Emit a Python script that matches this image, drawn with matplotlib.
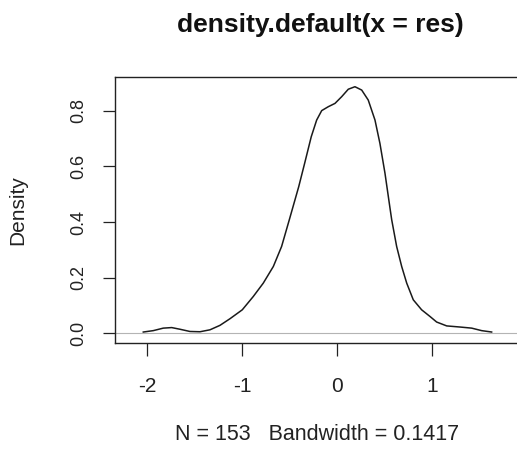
"""
plot.py — R-style density plot: density.default(x = res)
Output -> out.png (517x461)
"""
import matplotlib
matplotlib.use("Agg")
import matplotlib.pyplot as plt

# kurva densitas (x = res, y = density)
dens_x = [-2.042, -1.937, -1.832, -1.743, -1.656, -1.551, -1.445, -1.340,
          -1.235, -1.129, -1.000, -0.884, -0.779, -0.673, -0.586, -0.505,
          -0.406, -0.343, -0.274, -0.217, -0.164, -0.095, -0.024,
          0.046, 0.116, 0.186, 0.257, 0.326, 0.397, 0.449, 0.502,
          0.555, 0.573, 0.625, 0.678, 0.731, 0.800, 0.888, 0.976,
          1.046, 1.152, 1.292, 1.415, 1.520, 1.625]
dens_y = [0.004, 0.009, 0.018, 0.020, 0.014, 0.006, 0.005, 0.012,
          0.028, 0.052, 0.084, 0.132, 0.180, 0.240, 0.312, 0.408,
          0.527, 0.612, 0.707, 0.767, 0.801, 0.815, 0.827,
          0.851, 0.878, 0.887, 0.875, 0.839, 0.767, 0.683, 0.576,
          0.450, 0.408, 0.312, 0.240, 0.180, 0.120, 0.084, 0.060,
          0.040, 0.026, 0.022, 0.018, 0.009, 0.004]
x_ticks = [-2, -1, 0, 1]
y_ticks = [0.0, 0.2, 0.4, 0.6, 0.8]
y_ticklabels = ["0.0", "0.2", "0.4", "0.6", "0.8"]
TITLE = "density.default(x = res)"
XLAB = "N = 153   Bandwidth = 0.1417"
YLAB = "Density"

plt.rcParams['font.family'] = ['Liberation Sans', 'DejaVu Sans']

W, H = 517, 461
fig = plt.figure(figsize=(W / 100, H / 100), dpi=100)
ax = fig.add_axes([114.7 / W, 118 / H, (519 - 114.7) / W, 266 / H])

ax.axhline(0, color="#b4b4b4", lw=0.8, zorder=1)
ax.plot(dens_x, dens_y, color="#1a1a1a", lw=1.1, zorder=2,
        solid_joinstyle="round")

ax.set_xlim(-2.343, 1.913)
ax.set_ylim(-0.0355, 0.922)
ax.set_xticks(x_ticks)
ax.set_xticklabels([str(t) for t in x_ticks])
ax.set_yticks(y_ticks)
ax.set_yticklabels(y_ticklabels, rotation=90, va="center")
ax.tick_params(axis="x", length=9.5, width=0.9, pad=15, labelsize=15,
               colors="#222222")
ax.tick_params(axis="y", length=9, width=0.9, pad=11, labelsize=13,
               colors="#222222")
for s in ax.spines.values():
    s.set_linewidth(1.0); s.set_color("#222222")

fig.text(320 / W, 1 - 32 / H, TITLE, ha="center", va="baseline",
         fontsize=19, fontweight="bold", color="#111111")
fig.text(317 / W, 1 - 440 / H, XLAB, ha="center", va="baseline",
         fontsize=15.5, color="#222222")
fig.text(18 / W, 1 - 210 / H, YLAB, ha="center", va="center",
         fontsize=15, rotation=90, color="#222222")

fig.savefig("out.png", dpi=100)
